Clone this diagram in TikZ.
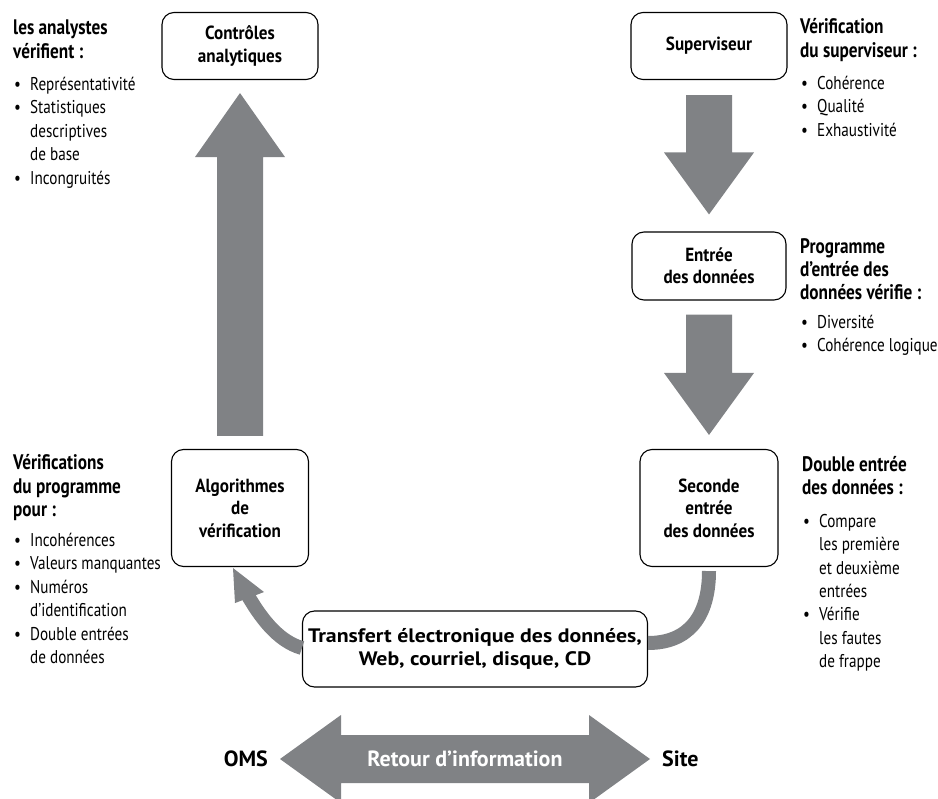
\documentclass[tikz,border=0pt]{standalone}
\usepackage{fontspec}
\setmainfont{PT Sans}[FakeStretch=0.82]
\newfontfamily\boxfont{PT Sans}[FakeStretch=0.9]
\newfontfamily\widefont{PT Sans}[FakeStretch=1.12]
\newfontfamily\plainfont{PT Sans}
\usetikzlibrary{calc}
\definecolor{arrowgray}{RGB}{128,130,133}
\newcommand{\bul}{\makebox[16pt][l]{\textbullet}}
\newcommand{\cont}{\hspace*{16pt}}

\begin{document}
\begin{tikzpicture}[x=1pt,y=-1pt]
    \tikzstyle{every node} = [inner sep=0pt]
    \tikzstyle{box} = [draw, rectangle, fill=white, line width=1.1pt, rounded corners=12pt, align=center, font=\boxfont\bfseries\fontsize{19}{22.5}\selectfont]
    \tikzstyle{head} = [align=left, anchor=north west, font=\bfseries\fontsize{21}{23.3}\selectfont]
    \tikzstyle{list} = [align=left, anchor=north west, font=\fontsize{18.5}{23.4}\selectfont]
    \tikzstyle{fat} = [fill=arrowgray]
    \tikzstyle{linkband} = [draw=arrowgray, line width=14pt]
    \tikzstyle{wide} = [font=\plainfont\bfseries\fontsize{22}{24}\selectfont]
    \useasboundingbox (0,0) rectangle (938,799);

    % place boxes
    \node[box, minimum width=156pt, minimum height=67pt] (ctrl) at (240,46) {Contrôles\\analytiques};
    \node[box, minimum width=156pt, minimum height=67pt] (superv) at (709,46) {Superviseur};
    \node[box, minimum width=154pt, minimum height=68pt] (entree) at (709,266) {Entrée\\des données};
    \node[box, minimum width=138pt, minimum height=117pt] (seconde) at (709,508) {Seconde\\entrée\\des données};
    \node[box, minimum width=137pt, minimum height=117pt] (algo) at (240,508) {Algorithmes\\de\\vérification};
    \node[box, minimum width=345pt, minimum height=76pt, font=\widefont\bfseries\fontsize{19.5}{23}\selectfont] (transfert) at (475,649) {Transfert électronique des données,\\Web, courriel, disque, CD};

    % side notes
    \node[head] (headCtrl) at (13,20) {les analystes\\vérifient :};
    \node[list] (listCtrl) at (14,77) {\bul Représentativité\\\bul Statistiques\\\cont descriptives\\\cont de base\\\bul Incongruités};
    \node[head] (headSuperv) at (800,18.5) {Vérification\\du superviseur :};
    \node[list] (listSuperv) at (801,76) {\bul Cohérence\\\bul Qualité\\\bul Exhaustivité};
    \node[head] (headEntree) at (800,238) {Programme\\d’entrée des\\données vérifie :};
    \node[list] (listEntree) at (801,315) {\bul Diversité\\\bul Cohérence logique};
    \node[head] (headAlgo) at (13,454.5) {Vérifications\\du programme\\pour :};
    \node[list] (listAlgo) at (14,533) {\bul Incohérences\\\bul Valeurs manquantes\\\bul Numéros\\\cont d’identification\\\bul Double entrées\\\cont de données};
    \node[head] (headSeconde) at (802,456) {Double entrée\\des données :};
    \node[list] (listSeconde) at (803,514) {\bul Compare\\\cont les première\\\cont et deuxième\\\cont entrées\\\bul Vérifie\\\cont les fautes\\\cont de frappe};

    % big arrows
    \coordinate (upTail) at ($(algo.north)+(0,-13)$);
    \coordinate (upTip) at ($(ctrl.south)+(0,13)$);
    \fill[fat] ($(upTail)+(-23,0)$) -- ($(upTip)+(-23,64)$) -- ($(upTip)+(-45,64)$) -- (upTip)
        -- ($(upTip)+(45,64)$) -- ($(upTip)+(23,64)$) -- ($(upTail)+(23,0)$) -- cycle;
    \coordinate (downTailA) at ($(superv.south)+(0,15)$);
    \coordinate (downTipA) at ($(entree.north)+(0,-17)$);
    \fill[fat] ($(downTailA)+(-23,0)$) -- ($(downTipA)+(-23,-62)$) -- ($(downTipA)+(-45,-62)$) -- (downTipA)
        -- ($(downTipA)+(45,-62)$) -- ($(downTipA)+(23,-62)$) -- ($(downTailA)+(23,0)$) -- cycle;
    \coordinate (downTailB) at ($(entree.south)+(0,14)$);
    \coordinate (downTipB) at ($(seconde.north)+(0,-14)$);
    \fill[fat] ($(downTailB)+(-23,0)$) -- ($(downTipB)+(-23,-62)$) -- ($(downTipB)+(-45,-62)$) -- (downTipB)
        -- ($(downTipB)+(45,-62)$) -- ($(downTipB)+(23,-62)$) -- ($(downTailB)+(23,0)$) -- cycle;

    % curved links
    \draw[linkband] ($(seconde.south)+(0,4)$) .. controls ($(seconde.south)+(0,50)$) and ($(transfert.east)+(40,-6)$) .. ($(transfert.east)+(0,-6)$);
    \coordinate (tipL) at ($(algo.south)+(-7,1)$);
    \draw[linkband] ($(transfert.west)+(0,-1)$) .. controls ($(transfert.west)+(-25,-8)$) and ($(tipL)+(26,47)$) .. ($(tipL)+(14,26)$);
    \fill[fat] (tipL) -- ($(tipL)+(2,35)$) -- ($(tipL)+(31,24)$) -- cycle;

    % feedback arrow
    \coordinate (fb) at (465,759);
    \fill[fat] ($(fb)+(-185,0)$) -- ($(fb)+(-124,-44)$) -- ($(fb)+(-124,-24)$) -- ($(fb)+(124,-24)$)
        -- ($(fb)+(124,-44)$) -- ($(fb)+(185,0)$) -- ($(fb)+(124,44)$) -- ($(fb)+(124,24)$)
        -- ($(fb)+(-124,24)$) -- ($(fb)+(-124,44)$) -- cycle;
    \node[wide, text=white] (retour) at (fb) {Retour d’information};
    \node[wide, anchor=east] (oms) at ($(fb)+(-197,0)$) {OMS};
    \node[wide, anchor=west] (site) at ($(fb)+(197,0)$) {Site};
\end{tikzpicture}
\end{document}
